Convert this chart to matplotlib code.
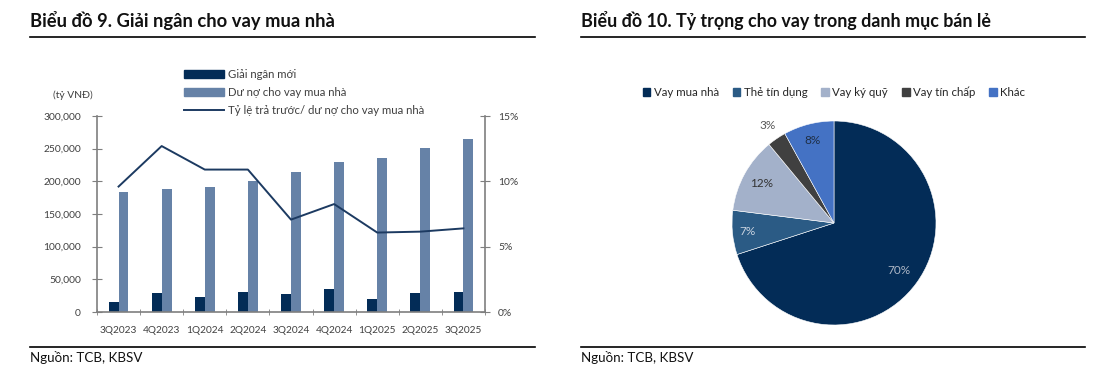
import matplotlib
matplotlib.use("Agg")
import matplotlib.pyplot as plt
import numpy as np
from matplotlib.lines import Line2D
from matplotlib.patches import Patch
from matplotlib.ticker import FuncFormatter, MultipleLocator

# ---------------- data ----------------
quarters = ["3Q2023", "4Q2023", "1Q2024", "2Q2024", "3Q2024", "4Q2024", "1Q2025", "2Q2025", "3Q2025"]
giai_ngan_moi = [16000, 29500, 23000, 30500, 27500, 35000, 20000, 29500, 30500]
du_no_mua_nha = [183000, 189000, 192000, 201000, 214000, 230000, 236000, 251000, 265000]
ty_le_tra_truoc = [9.6, 12.7, 10.9, 10.9, 7.07, 8.26, 6.08, 6.15, 6.4]

pie_labels = ["Vay mua nhà", "Thẻ tín dụng", "Vay ký quỹ", "Vay tín chấp", "Khác"]
pie_values = [70, 7, 12, 3, 8]

series_names = ["Giải ngân mới", "Dư nợ cho vay mua nhà", "Tỷ lệ trả trước/ dư nợ cho vay mua nhà"]
title_left = "Biểu đồ 9. Giải ngân cho vay mua nhà"
title_right = "Biểu đồ 10. Tỷ trọng cho vay trong danh mục bán lẻ"
source_text = "Nguồn: TCB, KBSV"
unit_text = "(tỷ VNĐ)"

# ---------------- style ----------------
plt.rcParams['font.family'] = ['Lato', 'DejaVu Sans']
W, H = 1099, 378
fig = plt.figure(figsize=(W / 100, H / 100), dpi=100)

def fx(px):
    return px / W

def fy(py):
    return 1 - py / H

c_dark = "#032C57"
c_steel = "#6682A7"
c_line = "#1C3A61"
c_spine = "#7F7F7F"
c_tick = "#404040"

# ---------------- titles & rules ----------------
fig.text(fx(30), fy(20), title_left, fontsize=13.2, fontweight="bold", va="center", ha="left", color="#111111")
fig.text(fx(581), fy(20), title_right, fontsize=12.9, fontweight="bold", va="center", ha="left", color="#111111")
for x0, x1 in [(30, 535), (581, 1085)]:
    fig.add_artist(Line2D([fx(x0), fx(x1)], [fy(36.7), fy(36.7)], color="black", lw=1.2))
    fig.add_artist(Line2D([fx(x0), fx(x1)], [fy(346.7), fy(346.7)], color="black", lw=1.2))
fig.text(fx(30), fy(357.5), source_text, fontsize=9.6, va="center", ha="left", color="#111111")
fig.text(fx(581), fy(357.5), source_text, fontsize=9.6, va="center", ha="left", color="#111111")

# ---------------- left chart ----------------
ax = fig.add_axes([fx(97), fy(312), fx(485 - 97), (312 - 116) / H])
x = np.arange(len(quarters))
bw = 0.23
ax.bar(x - bw / 2, giai_ngan_moi, width=bw, color=c_dark, zorder=2)
ax.bar(x + bw / 2, du_no_mua_nha, width=bw, color=c_steel, zorder=2)
ax.set_xlim(-0.5, len(quarters) - 0.5)
ax.set_ylim(0, 300000)
ax.yaxis.set_major_locator(MultipleLocator(50000))
ax.yaxis.set_major_formatter(FuncFormatter(lambda v, p: f"{int(v):,}"))
ax.set_xticks(x)
ax.set_xticklabels(quarters)
ax.set_xticks(np.arange(-0.5, len(quarters), 1), minor=True)
ax.tick_params(axis="x", which="major", length=0, labelsize=7.3, labelcolor=c_tick, pad=10)
ax.tick_params(axis="x", which="minor", length=4, color=c_spine, direction="inout")
ax.tick_params(axis="y", length=7, direction="inout", color=c_spine, labelsize=7.4, labelcolor=c_tick, pad=8)
for s in ["top", "right"]:
    ax.spines[s].set_visible(False)
for s in ["left", "bottom"]:
    ax.spines[s].set_color(c_spine)
    ax.spines[s].set_linewidth(1.2)

ax2 = ax.twinx()
ax2.plot(x, ty_le_tra_truoc, color=c_line, lw=1.4, zorder=3)
ax2.set_ylim(0, 15)
ax2.yaxis.set_major_locator(MultipleLocator(5))
ax2.yaxis.set_major_formatter(FuncFormatter(lambda v, p: f"{int(v)}%"))
ax2.tick_params(axis="y", length=7, direction="inout", color=c_spine, labelsize=7.4, labelcolor=c_tick, pad=6)
for s in ["top", "left", "bottom"]:
    ax2.spines[s].set_visible(False)
ax2.spines["right"].set_color(c_spine)
ax2.spines["right"].set_linewidth(1.2)

fig.text(fx(73), fy(95), unit_text, fontsize=7.4, ha="center", va="center", color=c_tick)

handles = [Patch(color=c_dark), Patch(color=c_steel), Line2D([], [], color=c_line, lw=1.4)]
fig.legend(handles, series_names, loc="upper left", bbox_to_anchor=(fx(184), fy(69)),
           frameon=False, fontsize=8.2, handlelength=3.5, handleheight=0.7, handletextpad=0.4,
           labelspacing=0.6, borderpad=0, borderaxespad=0, labelcolor=c_tick)

# ---------------- right chart (pie) ----------------
cx, cy, r = 834, 223, 102
pax = fig.add_axes([fx(cx - r), fy(cy + r), fx(2 * r), 2 * r / H])
pie_colors = ["#032C57", "#2B5B85", "#A3B1CA", "#404040", "#4472C4"]
wedges, _ = pax.pie(pie_values, colors=pie_colors, startangle=90, counterclock=False,
                    radius=1, wedgeprops=dict(edgecolor="white", linewidth=0.4))
pax.set_xlim(-1, 1)
pax.set_ylim(-1, 1)
pax.set_aspect("equal")
pax.axis("off")
label_colors = ["#AEB7C6", "#C9D3E0", "#333333", "#595959", "#1F2F45"]
label_dist = [0.79, 0.85, 0.81, 1.16, 0.83]
for w, v, col, d in zip(wedges, pie_values, label_colors, label_dist):
    ang = np.deg2rad((w.theta1 + w.theta2) / 2)
    pax.text(d * np.cos(ang), d * np.sin(ang), f"{v}%", ha="center", va="center",
             fontsize=8.5, color=col, clip_on=False)

fig.legend([Patch(color=c) for c in pie_colors], pie_labels, loc="center", bbox_to_anchor=(fx(834), fy(92)),
           ncol=5, frameon=False, fontsize=8.3, handlelength=0.67, handleheight=0.67,
           handletextpad=0.29, columnspacing=1.2, borderpad=0, labelcolor="#262626")

fig.savefig("out.png", dpi=100)
